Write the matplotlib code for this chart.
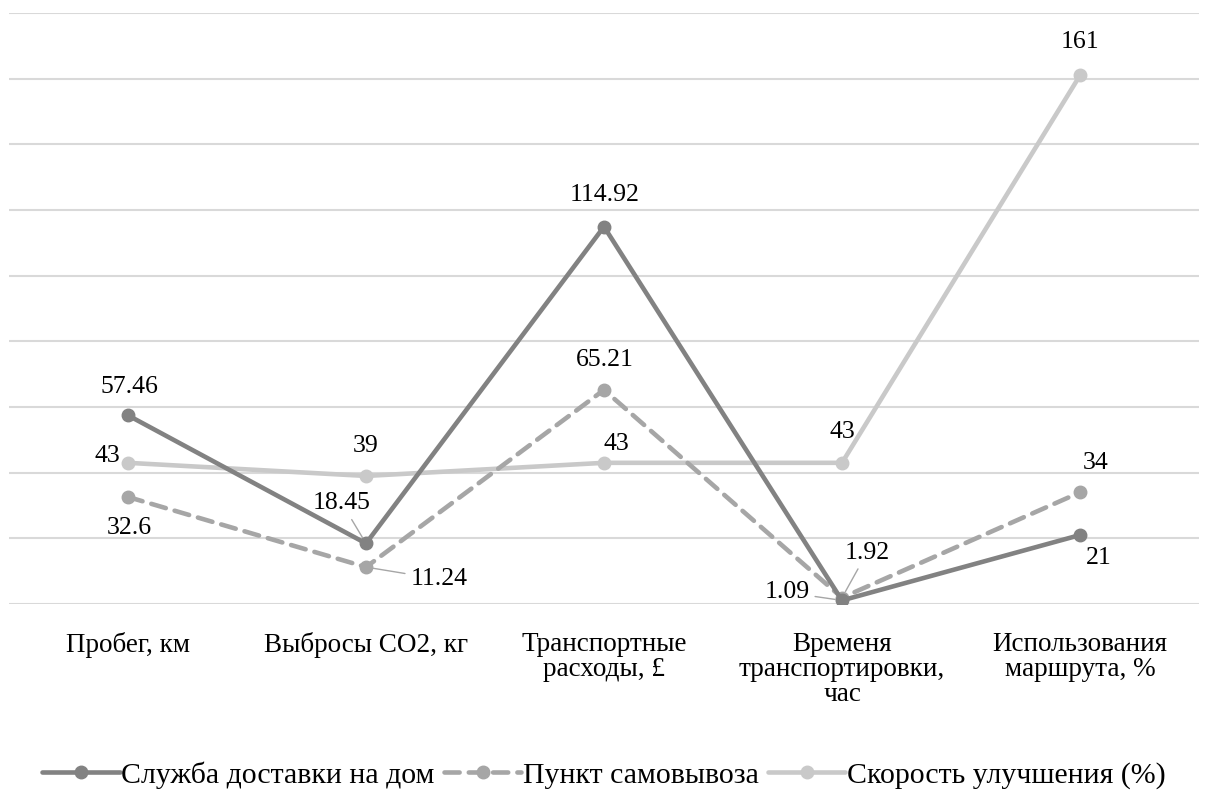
import matplotlib.pyplot as plt

plt.rcParams['font.family'] = ['Liberation Serif', 'DejaVu Serif']

# Data
categories = ['Пробег, км', 'Выбросы CO2, кг', 'Транспортные\nрасходы, £',
              'Временя\nтранспортировки,\nчас', 'Использования\nмаршрута, %']
home = [57.46, 18.45, 114.92, 1.09, 21]
pickup = [32.6, 11.24, 65.21, 1.92, 34]
speed = [43, 39, 43, 43, 161]
series_names = ['Служба доставки на дом', 'Пункт самовывоза', 'Скорость улучшения (%)']

# label offsets in pixels (dx, dy up), leader line flag
home_off = [(1, 28, False), (-24, 40, True), (1, 32, False), (-55, 8, True), (19, -23, False)]
pickup_off = [(1, -31, False), (73, -12, True), (1, 30, False), (25, 45, True), (16, 29, False)]
speed_off = [(-21, 7, False), (0, 30, False), (12, 19, False), (0, 31, False), (0, 33, False)]

fig = plt.figure(figsize=(12.08, 8.05), dpi=100)
ax = fig.add_axes([9 / 1208, (805 - 604) / 805, 1190 / 1208, 591 / 805])

x = list(range(len(categories)))
c_home, c_pick, c_speed = '#828282', '#a6a6a6', '#c9c9c9'

ax.plot(x, speed, color=c_speed, lw=3.3, marker='o', ms=9, label=series_names[2],
        solid_capstyle='round', zorder=3)
ax.plot(x, pickup, color=c_pick, lw=3.3, marker='o', ms=9, label=series_names[1],
        linestyle=(0, (3.3, 2.0)), dash_capstyle='round', zorder=4)
ax.plot(x, home, color=c_home, lw=3.3, marker='o', ms=9, label=series_names[0],
        solid_capstyle='round', zorder=5)


def labels(vals, offs):
    for xi, v, (dx, dy, lead) in zip(x, vals, offs):
        txt = f'{v:g}'
        props = None
        if lead:
            props = dict(arrowstyle='-', color='#a6a6a6', lw=1, shrinkA=2, shrinkB=5)
        ax.annotate(txt, (xi, v), xytext=(dx, dy), textcoords='offset pixels',
                    ha='center', va='center', fontsize=18.5, color='#000000',
                    arrowprops=props, zorder=6)


labels(home, home_off)
labels(pickup, pickup_off)
labels(speed, speed_off)

ax.set_xlim(-0.5, 4.5)
ax.set_ylim(0, 180)
ax.set_yticks(range(0, 181, 20))
ax.yaxis.grid(True, color='#d9d9d9', lw=1.5)
ax.set_axisbelow(True)
ax.tick_params(axis='y', length=0, labelleft=False)
ax.set_xticks(x)
ax.set_xticklabels(categories, fontsize=19.5, va='top', linespacing=1.0)
ax.tick_params(axis='x', length=0, pad=20)
for s in ax.spines.values():
    s.set_visible(False)

h, l = ax.get_legend_handles_labels()
fig.legend(h[::-1], l[::-1], loc='center', bbox_to_anchor=(0.5, 30 / 805), ncol=3,
           frameon=False, fontsize=21.5, handlelength=2.6, handletextpad=0.05,
           columnspacing=0.3)

fig.savefig('out.png', dpi=100)
